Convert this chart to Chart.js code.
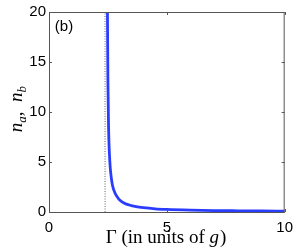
<!DOCTYPE html>
<html>
<head>
<meta charset="utf-8">
<script src="https://cdn.jsdelivr.net/npm/chart.js@4.4.0/dist/chart.umd.min.js"></script>
<style>
  html,body{margin:0;padding:0;background:#fff;}
  #wrap{width:300px;height:252px;}
</style>
</head>
<body>
<div id="wrap"><canvas id="chart" width="300" height="252"></canvas></div>
<script>
// ===== Data =====
const gammaVals = [2.48, 2.50, 2.53, 2.56, 2.60, 2.65, 2.70, 2.80, 2.90, 3.00, 3.20, 3.40, 3.70, 4.00, 4.50, 5.00, 6.00, 7.00, 8.00, 9.00, 10.00];
const nVals     = [20.0, 13.0, 8.2,  6.0,  4.4,  3.3,  2.6,  1.9,  1.5,  1.2,  0.88, 0.70, 0.53, 0.43, 0.32, 0.26, 0.19, 0.145, 0.12, 0.10, 0.088];
const critGamma = [2.38, 2.38];
const critN     = [0, 20];
const xTicks = [0, 5, 10];
const yTicks = [0, 5, 10, 15, 20];

// ===== Helpers =====
function toPts(xs, ys){ return xs.map((x,i)=>({x:x, y:ys[i]})); }

const AXIS_COLOR = "#555";
const SANS = "'Liberation Sans', Arial, sans-serif";
const SERIF = "'Liberation Serif', 'Times New Roman', serif";

// box, inward ticks, panel label and axis titles
const framePlugin = {
  id: "frame",
  afterDraw(chart){
    const c = chart.ctx, a = chart.chartArea;
    const xs = chart.scales.x, ys = chart.scales.y;
    c.save();
    c.strokeStyle = AXIS_COLOR; c.lineWidth = 1;
    c.strokeRect(a.left + 0.5, a.top + 0.5, a.right - a.left - 1, a.bottom - a.top);
    c.beginPath();
    xTicks.forEach(v=>{
      const px = Math.round(xs.getPixelForValue(v)) + 0.5;
      c.moveTo(px, a.bottom); c.lineTo(px, a.bottom - 3);
      c.moveTo(px, a.top); c.lineTo(px, a.top + 3);
    });
    yTicks.forEach(v=>{
      const py = Math.round(ys.getPixelForValue(v)) + 0.5;
      c.moveTo(a.left, py); c.lineTo(a.left + 3, py);
      c.moveTo(a.right, py); c.lineTo(a.right - 3, py);
    });
    c.stroke();

    // panel label
    c.fillStyle = "#000";
    c.font = "15px " + SANS;
    c.textAlign = "center"; c.textBaseline = "middle";
    c.fillText("(b)", 64, 27);

    // x title: Γ (in units of g)
    c.textBaseline = "alphabetic";
    c.textAlign = "left";
    const p1 = "\u0393 (in units of ", p2 = "g", p3 = ")";
    c.font = "19px " + SERIF;
    const w1 = c.measureText(p1).width, w3 = c.measureText(p3).width;
    c.font = "italic 19px " + SERIF;
    const w2 = c.measureText(p2).width + 1;
    let x0 = 166 - (w1 + w2 + w3) / 2;
    const yb = 243;
    c.font = "19px " + SERIF; c.fillText(p1, x0, yb);
    c.font = "italic 19px " + SERIF; c.fillText(p2, x0 + w1, yb);
    c.font = "19px " + SERIF; c.fillText(p3, x0 + w1 + w2, yb);

    // y title: n_a, n_b (rotated)
    c.translate(22, 109);
    c.rotate(-Math.PI / 2);
    const parts = [
      {t:"n", f:"italic 19px " + SERIF, dy:0},
      {t:"a", f:"italic 13px " + SERIF, dy:4},
      {t:",  ", f:"19px " + SERIF, dy:0},
      {t:"n", f:"italic 19px " + SERIF, dy:0},
      {t:"b", f:"italic 13px " + SERIF, dy:4}
    ];
    let tw = 0;
    parts.forEach(p=>{ c.font = p.f; p.w = c.measureText(p.t).width; tw += p.w; });
    let cx = -tw / 2;
    parts.forEach(p=>{ c.font = p.f; c.fillText(p.t, cx, p.dy); cx += p.w; });
    c.restore();
  }
};

new Chart(document.getElementById("chart").getContext("2d"), {
  type: "scatter",
  data: {
    datasets: [
      {
        data: toPts(critGamma, critN),
        showLine: true,
        borderColor: "#a0a0a0",
        borderWidth: 1.6,
        borderDash: [1, 1.5],
        pointRadius: 0
      },
      {
        data: toPts(gammaVals, nVals),
        showLine: true,
        borderColor: "#2a3dff",
        borderWidth: 2.8,
        cubicInterpolationMode: "monotone",
        pointRadius: 0
      }
    ]
  },
  options: {
    responsive: false,
    animation: false,
    devicePixelRatio: 1,
    layout: { padding: { left: 0, top: 11, right: 13, bottom: 0 } },
    plugins: { legend: { display: false }, tooltip: { enabled: false } },
    scales: {
      x: {
        type: "linear", min: 0, max: 10,
        afterBuildTicks: s => { s.ticks = xTicks.map(v=>({value:v})); },
        afterFit: s => { s.height = 40; },
        grid: { display: false, drawTicks: false },
        border: { display: false },
        ticks: { color: "#000", padding: 7, maxRotation: 0, font: { family: SANS, size: 15 } }
      },
      y: {
        type: "linear", min: 0, max: 20,
        afterBuildTicks: s => { s.ticks = yTicks.map(v=>({value:v})); },
        afterFit: s => { s.width = 49; },
        grid: { display: false, drawTicks: false },
        border: { display: false },
        ticks: { color: "#000", padding: 3, font: { family: SANS, size: 15 } }
      }
    }
  },
  plugins: [framePlugin]
});
</script>
</body>
</html>
